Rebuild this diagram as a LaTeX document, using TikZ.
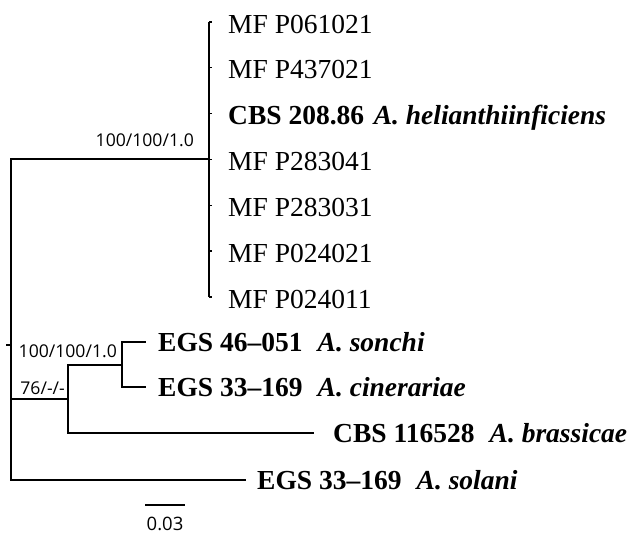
\documentclass[tikz,border=0pt]{standalone}
\usepackage{fontspec}
\setmainfont{Liberation Serif}
\newfontfamily\supfont{Open Sans}
\tikzset{
  br/.style={line width=1.6pt, line cap=rect},
  leaf/.style={anchor=base west, inner sep=0pt, font=\fontsize{27.5}{30}\selectfont},
  supp/.style={anchor=base east, inner sep=0pt, font=\supfont\fontsize{17.6}{20}\selectfont},
  scl/.style={anchor=base, inner sep=0pt, font=\supfont\fontsize{18.5}{20}\selectfont}
}
\begin{document}
\begin{tikzpicture}[x=1pt,y=-1pt]
\useasboundingbox (0,0) rectangle (643,533);
% internal nodes
\coordinate (r) at (11,345);
\coordinate (rs) at (7,345);
\coordinate (cA) at (209,159);
\coordinate (n76) at (68,399);
\coordinate (nS) at (122,365);
% tips
\coordinate (t1) at (212,22);
\coordinate (t2) at (212,67.8);
\coordinate (t3) at (212,113.7);
\coordinate (t4) at (212,159.5);
\coordinate (t5) at (212,205.3);
\coordinate (t6) at (212,251);
\coordinate (t7) at (212,297);
\coordinate (tSo) at (145,342);
\coordinate (tCi) at (145,387);
\coordinate (tBr) at (313,433);
\coordinate (tSl) at (245,480);
\coordinate (sb1) at (145,505);
\coordinate (sb2) at (185,505);
% branches
\draw[br] (rs) -- (r);
\draw[br] (r) |- (cA);
\draw[br] (r) |- (tSl);
\draw[br] (r |- n76) -- (n76);
\draw[br] (n76 |- nS) -- (n76 |- tBr) -- (tBr);
\draw[br] (n76 |- nS) -- (nS);
\draw[br] (nS |- tSo) -- (nS |- tCi);
\draw[br] (nS |- tSo) -- (tSo);
\draw[br] (nS |- tCi) -- (tCi);
\draw[line width=1.3pt] (cA |- t1) -- (cA |- t7);
\foreach \i in {1,...,7}{\draw[line width=1.3pt] (cA |- t\i) -- (t\i);}
\draw[br, line cap=butt, line width=2pt] (sb1) -- (sb2);
% leaf labels
\node[leaf] (l1) at (228,33) {MF P061021};
\node[leaf] (l2) at (228,78.8) {MF P437021};
\node[leaf] (l3) at (228,124.7) {\textbf{CBS 208.86\hspace{0.35em}\textit{A. helianthiinficiens}}};
\node[leaf] (l4) at (228,170.5) {MF P283041};
\node[leaf] (l5) at (228,216.3) {MF P283031};
\node[leaf] (l6) at (228,262) {MF P024021};
\node[leaf] (l7) at (228,308) {MF P024011};
\node[leaf] (lSo) at (158,351) {\textbf{EGS 46–051\hspace{0.55em}\textit{A. sonchi}}};
\node[leaf] (lCi) at (158,396) {\textbf{EGS 33–169\hspace{0.55em}\textit{A. cinerariae}}};
\node[leaf] (lBr) at (333,442) {\textbf{CBS 116528\hspace{0.55em}\textit{A. brassicae}}};
\node[leaf] (lSl) at (257,489) {\textbf{EGS 33–169\hspace{0.55em}\textit{A. solani}}};
% support values
\node[supp] (s1) at (194,146) {100/100/1.0};
\node[supp] (s2) at (117,357) {100/100/1.0};
\node[supp] (s3) at (65,394) {76/-/-};
\node[scl] (sc) at (165,530) {0.03};
\end{tikzpicture}
\end{document}
